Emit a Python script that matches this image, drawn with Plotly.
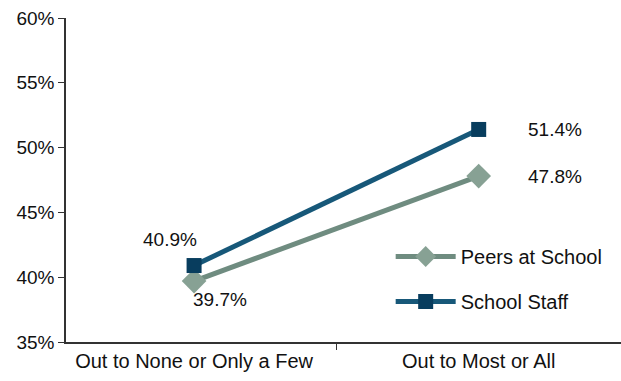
import plotly.graph_objects as go

categories = ["Out to None or Only a Few", "Out to Most or All"]
peers = [39.7, 47.8]
staff = [40.9, 51.4]
y_ticks = [35, 40, 45, 50, 55, 60]
y_tick_labels = ["35%", "40%", "45%", "50%", "55%", "60%"]

FONT = "Liberation Sans, Arial, sans-serif"
PEER_LINE = "#6f8c80"
PEER_MARK = "#87a194"
STAFF_LINE = "#175879"
STAFF_MARK = "#083d5e"

fig = go.Figure()
fig.add_trace(go.Scatter(
    x=categories, y=peers, name="Peers at School", mode="lines+markers",
    line=dict(color=PEER_LINE, width=5), legendgroup="p",
    marker=dict(symbol="diamond", size=19, color=PEER_MARK),
))
fig.add_trace(go.Scatter(
    x=categories, y=staff, name="School Staff", mode="lines+markers",
    line=dict(color=STAFF_LINE, width=5), legendgroup="s",
    marker=dict(symbol="square", size=15, color=STAFF_MARK),
))

# data labels
label_font = dict(family=FONT, size=19, color="#111111")
offsets_staff = [(-24, 26), (76, 0)]
offsets_peer = [(26, -18), (76, 0)]
for i, c in enumerate(categories):
    fig.add_annotation(x=c, y=staff[i], text=f"{staff[i]:.1f}%", showarrow=False,
                       xshift=offsets_staff[i][0], yshift=offsets_staff[i][1], font=label_font)
    fig.add_annotation(x=c, y=peers[i], text=f"{peers[i]:.1f}%", showarrow=False,
                       xshift=offsets_peer[i][0], yshift=offsets_peer[i][1], font=label_font)

fig.update_layout(
    width=621, height=381,
    margin=dict(l=66, r=0, t=18, b=39),
    paper_bgcolor="white", plot_bgcolor="white",
    font=dict(family=FONT, size=19, color="#111111"),
    showlegend=True,
    legend=dict(x=0.585, y=0.324, xanchor="left", yanchor="top",
                bgcolor="rgba(0,0,0,0)", font=dict(size=20, family=FONT),
                traceorder="grouped", tracegroupgap=16, itemwidth=60),
    xaxis=dict(
        type="category", range=[-0.45, 1.5], showgrid=False,
        showline=True, linecolor="#333333", linewidth=1.5,
        ticks="outside", tickson="boundaries", ticklen=6, tickcolor="#333333",
        tickfont=dict(size=20, family=FONT),
    ),
    yaxis=dict(
        range=[35, 60], tickvals=y_ticks, ticktext=y_tick_labels,
        showgrid=False, zeroline=False,
        showline=True, linecolor="#333333", linewidth=1.5,
        ticks="outside", ticklen=6, tickcolor="#333333",
        tickfont=dict(size=19, family=FONT),
    ),
)

fig.write_html("out.html", config={"displayModeBar": False},
               post_script="document.body.style.margin='0';")
